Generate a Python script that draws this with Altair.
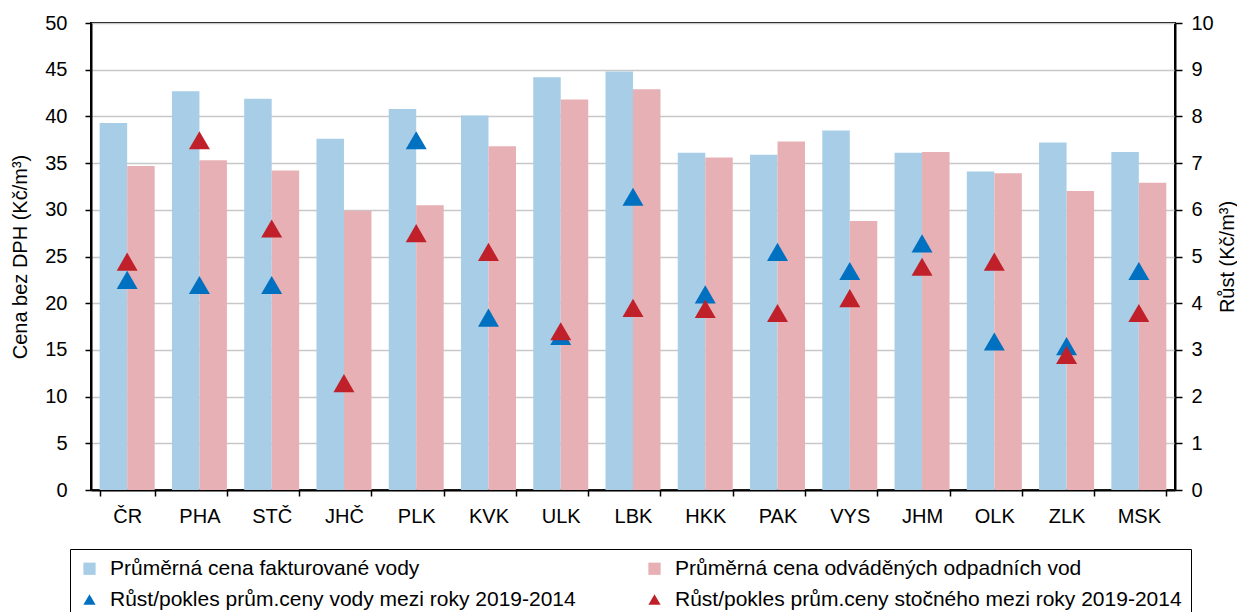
import altair as alt
import pandas as pd

kraje = ["ČR", "PHA", "STČ", "JHČ", "PLK", "KVK", "ULK", "LBK", "HKK", "PAK", "VYS", "JHM", "OLK", "ZLK", "MSK"]
cena_voda = [39.3, 42.7, 41.9, 37.6, 40.8, 40.1, 44.2, 44.8, 36.1, 35.9, 38.5, 36.1, 34.1, 37.2, 36.2]
cena_stocne = [34.7, 35.3, 34.2, 29.9, 30.5, 36.8, 41.8, 42.9, 35.6, 37.3, 28.8, 36.2, 33.9, 32.0, 32.9]
rust_voda = [4.50, 4.39, 4.39, None, 7.49, 3.69, 3.30, 6.28, 4.19, 5.10, 4.69, 5.28, 3.18, 3.08, 4.69]
rust_stocne = [4.89, 7.49, 5.60, 2.29, 5.50, 5.10, 3.40, 3.90, 3.88, 3.79, 4.11, 4.78, 4.89, 2.89, 3.79]

S1 = "Průměrná cena fakturované vody"
S2 = "Průměrná cena odváděných odpadních vod"
S3 = "Růst/pokles prům.ceny vody mezi roky 2019-2014"
S4 = "Růst/pokles prům.ceny stočného mezi roky 2019-2014"
# legend fills column by column: column 1 = S1, S3; column 2 = S2, S4
serie = [S1, S3, S2, S4]
barvy = ["#A7CDE7", "#0070C0", "#E7B0B4", "#C0202A"]
tvary = ["square", "triangle-up", "square", "triangle-up"]

bar_rows = []
for k, a, b in zip(kraje, cena_voda, cena_stocne):
    bar_rows.append({"kraj": k, "serie": S1, "hodnota": a})
    bar_rows.append({"kraj": k, "serie": S2, "hodnota": b})
bar_df = pd.DataFrame(bar_rows)

pt_rows = []
for k, a, b in zip(kraje, rust_voda, rust_stocne):
    if a is not None:
        pt_rows.append({"kraj": k, "serie": S3, "hodnota": a})
    if b is not None:
        pt_rows.append({"kraj": k, "serie": S4, "hodnota": b})
pt_df = pd.DataFrame(pt_rows)

FONT = "Liberation Sans"

legend_props = dict(
    title=None,
    orient="none",
    legendX=-21,
    legendY=526,
    columns=2,
    columnPadding=68,
    rowPadding=9,
    padding=9,
    strokeColor="black",
    labelFont=FONT,
    labelFontSize=21,
    labelColor="black",
    labelLimit=900,
    labelOffset=10,
    symbolSize=150,
    symbolStrokeWidth=0,
)

x_enc = alt.X(
    "kraj:N",
    sort=kraje,
    scale=alt.Scale(paddingInner=0.239, paddingOuter=0.12),
    axis=alt.Axis(
        title=None,
        labelAngle=0,
        tickBand="extent",
        tickSize=6,
        labelPadding=10,
        labelFontSize=20,
        domainWidth=2,
    ),
)

color_enc = alt.Color(
    "serie:N",
    scale=alt.Scale(domain=serie, range=barvy),
    legend=alt.Legend(**legend_props),
)

bars = alt.Chart(bar_df).mark_bar(opacity=1).encode(
    x=x_enc,
    xOffset=alt.XOffset("serie:N", sort=[S1, S2], scale=alt.Scale(paddingInner=0, paddingOuter=0)),
    y=alt.Y(
        "hodnota:Q",
        scale=alt.Scale(domain=[0, 50], nice=False),
        axis=alt.Axis(
            title="Cena bez DPH (Kč/m³)",
            values=list(range(0, 51, 5)),
            grid=True,
            tickSize=6,
            labelPadding=18,
            titlePadding=14,
        ),
    ),
    color=color_enc,
)

points = alt.Chart(pt_df).mark_point(filled=True, size=440, opacity=1, strokeWidth=0).encode(
    x=alt.X("kraj:N", sort=kraje),
    y=alt.Y(
        "hodnota:Q",
        scale=alt.Scale(domain=[0, 10], nice=False),
        axis=alt.Axis(
            orient="right",
            title="Růst (Kč/m³)",
            values=list(range(0, 11)),
            grid=False,
            tickSize=7,
            labelPadding=9,
            titlePadding=24,
            titleAngle=270,
        ),
    ),
    color=color_enc,
    shape=alt.Shape(
        "serie:N",
        scale=alt.Scale(domain=serie, range=tvary),
        legend=alt.Legend(**legend_props),
    ),
)

chart = (
    alt.layer(bars, points)
    .resolve_scale(y="independent")
    .properties(
        width=1084,
        height=467,
        autosize=alt.AutoSizeParams(type="none"),
        padding={"left": 83, "top": 15, "right": 62, "bottom": 122},
        background="white",
    )
    .configure_view(stroke="black", strokeWidth=2)
    .configure_axis(
        labelFont=FONT,
        labelFontSize=20,
        labelColor="black",
        titleFont=FONT,
        titleFontSize=20,
        titleFontWeight="normal",
        titleColor="black",
        domainColor="black",
        domainWidth=2,
        tickColor="black",
        tickWidth=1.5,
        gridColor="#C8C8C8",
        gridWidth=1.5,
    )
)

chart.save("out.html", embed_options={"renderer": "svg", "actions": False})
